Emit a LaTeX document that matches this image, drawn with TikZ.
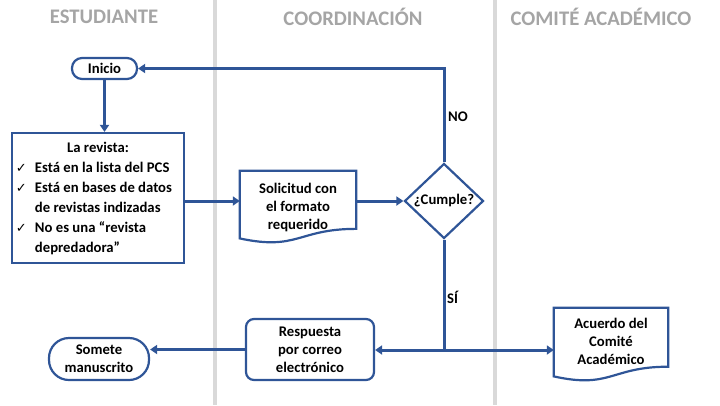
\documentclass[tikz,border=0pt]{standalone}
\usepackage{fontspec}
\setmainfont{Carlito}
\newfontfamily\chkfont{DejaVu Sans}
\usetikzlibrary{arrows.meta,shapes.geometric,calc}
\definecolor{flowblue}{HTML}{2F5597}
\definecolor{lanegray}{HTML}{D9D9D9}
\definecolor{headgray}{HTML}{A5A5A5}
\newcommand\chk{{\mdseries\chkfont\fontsize{13}{20}\selectfont ✓}}
% #1 node name, #2 full shape height / node height
\newcommand\docshape[2]{%
  \draw[boxline] (#1.north west) -- (#1.north east)
    -- ($(#1.north east)!{0.802*#2}!(#1.south east)$)
    .. controls ($(#1.north)!{0.802*#2}!(#1.south)$) and ($(#1.north)!{1.107*#2}!(#1.south)$)
    .. ($(#1.north west)!{0.934*#2}!(#1.south west)$) -- cycle;}
\tikzset{
  x=1pt, y=-1pt,
  txt/.style={font=\bfseries\fontsize{14.7}{18}\selectfont, text=black, align=center},
  boxline/.style={draw=flowblue, line width=2.2pt},
  roundbox/.style={txt, boxline, rectangle, inner sep=0pt},
  docbox/.style={txt, draw=none, rectangle, inner sep=0pt},
  lane/.style={draw=lanegray, line width=4pt},
  header/.style={font=\bfseries\fontsize{20.7}{24}\selectfont, text=headgray},
  conn/.style={draw=flowblue, line width=3pt},
  arr/.style={conn, -{Triangle[width=9pt,length=7pt]}},
  lbl/.style={font=\bfseries\fontsize{14.7}{18}\selectfont, text=black, inner sep=0pt}
}
\begin{document}
\begin{tikzpicture}
\useasboundingbox (0,0) rectangle (720,405);
% lanes
\draw[lane] (215,0) -- (215,405);
\draw[lane] (495,0) -- (495,405);
\node[header] (h1) at (104,17) {ESTUDIANTE};
\node[header] (h2) at (353,17) {COORDINACIÓN};
\node[header] (h3) at (601,17) {COMITÉ ACADÉMICO};
% nodes
\node[roundbox, rounded corners=10pt, minimum width=65pt, minimum height=21pt] (ini) at (104.5,68.5) {Inicio};
\node[txt, boxline, rectangle, inner sep=0pt, minimum width=172pt, minimum height=130pt] (rev) at (98,198)
  {\fontsize{14.7}{20}\selectfont\begin{tabular}{@{}p{12pt}@{\hspace{7pt}}p{145pt}@{}}
   \multicolumn{2}{@{}c@{}}{La revista:}\\
   \chk & Está en la lista del PCS\\
   \chk & Está en bases de datos\\
        & de revistas indizadas\\
   \chk & No es una “revista\\
        & depredadora”
   \end{tabular}};
\node[docbox, minimum width=116pt, minimum height=72pt] (sol) at (298,207) {Solicitud con\\el formato\\requerido};
\docshape{sol}{1}
\node[txt, boxline, diamond, inner sep=0pt, minimum width=79pt, minimum height=75pt] (dia) at (444,201) {¿Cumple?};
\node[roundbox, rounded corners=8pt, minimum width=128pt, minimum height=61pt] (resp) at (310,349.5) {Respuesta\\por correo\\electrónico};
\node[roundbox, rounded corners=20pt, minimum width=100pt, minimum height=42pt] (som) at (99,359) {Somete\\manuscrito};
\node[docbox, minimum width=114pt, minimum height=66pt] (acu) at (611,341) {Acuerdo del\\Comité\\Académico};
\docshape{acu}{1.106}
\coordinate (j) at (444,350);
% connectors
\draw[arr] (ini.south) -- (ini.south |- rev.north);
\draw[arr] ([yshift=-3pt]rev.east) -- ([yshift=-3pt]rev.east -| sol.west);
\draw[arr] (dia.west -| sol.east) -- (dia.west);
\draw[arr] (dia.north) |- (ini.east);
\draw[conn] (dia.south) -- (j);
\draw[arr] (j) -- (j -| resp.east);
\draw[arr] (j) -- (j -| acu.west);
\draw[arr] (resp.west) -- (resp.west -| som.east);
\node[lbl, anchor=west] (no) at (448,117) {NO};
\node[lbl, anchor=west] (si) at (447,297) {SÍ};
\end{tikzpicture}
\end{document}
